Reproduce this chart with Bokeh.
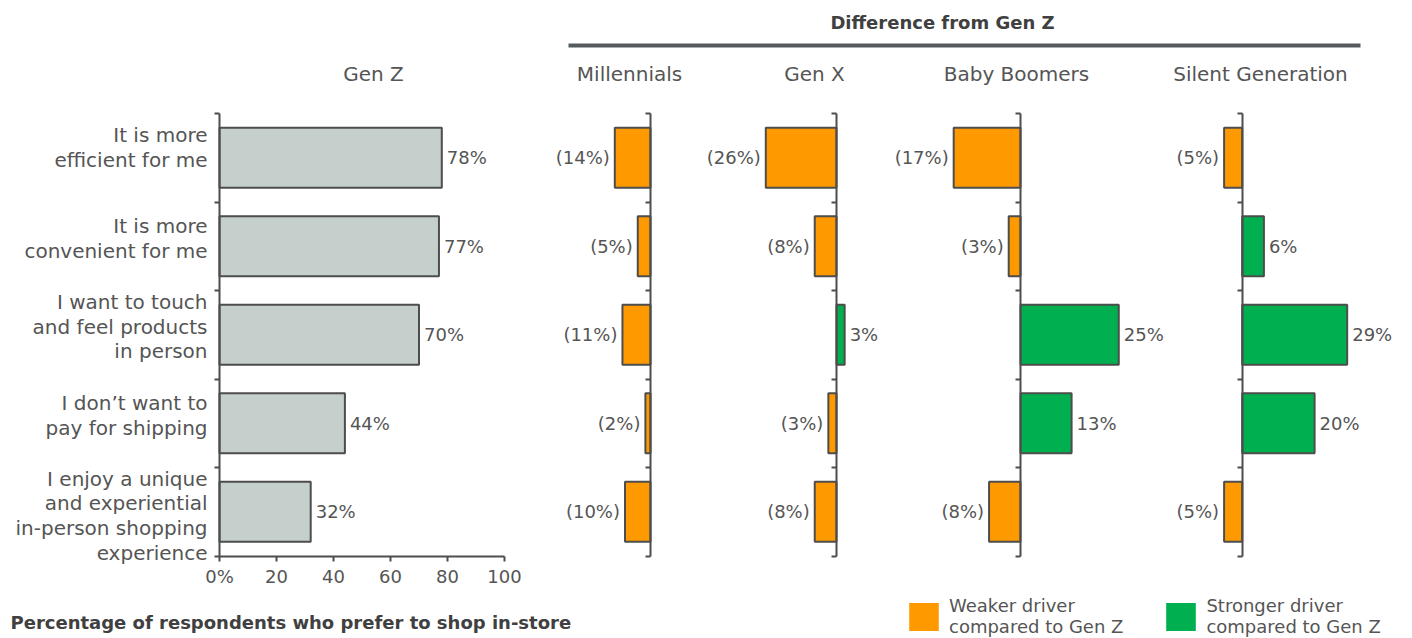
from bokeh.plotting import figure
from bokeh.models import (ColumnDataSource, Range1d, LinearAxis, FixedTicker,
                          Legend, LegendItem)
from bokeh.embed import file_html
from bokeh.resources import INLINE
from bokeh.core.properties import value

# ---------------- data ----------------
categories = [
    "It is more\nefficient for me",
    "It is more\nconvenient for me",
    "I want to touch\nand feel products\nin person",
    "I don\u2019t want to\npay for shipping",
    "I enjoy a unique\nand experiential\nin-person shopping\nexperience",
]
gen_z = [78, 77, 70, 44, 32]
millennials = [-14, -5, -11, -2, -10]
gen_x = [-26, -8, 3, -3, -8]
baby_boomers = [-17, -3, 25, 13, -8]
silent_generation = [-5, 6, 29, 20, -5]

panel_titles = ["Gen Z", "Millennials", "Gen X", "Baby Boomers", "Silent Generation"]
genz_ticks = [0, 20, 40, 60, 80, 100]
genz_tick_labels = ["0%", "20", "40", "60", "80", "100"]
header_text = "Difference from Gen Z"
footer_text = "Percentage of respondents who prefer to shop in-store"
legend_labels = ["Weaker driver\ncompared to Gen Z", "Stronger driver\ncompared to Gen Z"]

# ---------------- style / layout ----------------
W, H = 1412, 638
FONT = "DejaVu Sans"
TXT = "#555555"
EDGE = "#4d4d4d"
GRAY = "#c5cfcc"
ORANGE = "#ff9900"
GREEN = "#00b050"
ROW0 = 113.0      # px of the top category boundary
ROWPX = 88.5      # px per category row
BAR_H = 0.68
# (range name, px of zero, px per percent)
panel_geom = [("genz", 219.0, 2.85), ("mil", 650.0, 2.55), ("genx", 836.0, 2.72),
              ("boom", 1020.0, 3.93), ("silent", 1241.7, 3.62)]
title_cx = [373, 629, 814, 1016, 1260]
title_y = 73
label_shift = [-10, -8, -8, -8, 4]        # vertical nudges of category labels (px)

p = figure(width=W, height=H, output_backend="svg", toolbar_location=None,
           x_range=Range1d(0, W), y_range=Range1d(H, 0),
           x_axis_location=None, y_axis_location=None,
           min_border=0, outline_line_color=None)
p.border_fill_color = "white"
p.xgrid.visible = False
p.ygrid.visible = False

p.extra_y_ranges = {"rows": Range1d((H - ROW0) / ROWPX, -ROW0 / ROWPX)}
p.extra_x_ranges = {name: Range1d(-z / s, (W - z) / s) for name, z, s in panel_geom}

n = len(categories)
centers = [i + 0.5 for i in range(n)]
bounds_ticks = list(range(n + 1))


def cat_axis(name):
    return LinearAxis(x_range_name=name, y_range_name="rows", fixed_location=0,
                      ticker=FixedTicker(ticks=bounds_ticks), bounds=(0, n),
                      major_label_overrides={t: "" for t in bounds_ticks},
                      major_tick_out=5, major_tick_in=0,
                      minor_tick_out=0, minor_tick_in=0,
                      axis_line_color=EDGE, axis_line_width=2,
                      major_tick_line_color=EDGE, major_tick_line_width=2)


# ---------- Gen Z panel ----------
src_z = ColumnDataSource(dict(y=centers, v=gen_z, lbl=[f"{v}%" for v in gen_z]))
p.hbar(y="y", left=0, right="v", height=BAR_H, source=src_z,
       fill_color=GRAY, line_color=EDGE, line_width=2,
       x_range_name="genz", y_range_name="rows")
p.text(x="v", y="y", text="lbl", source=src_z, x_offset=5,
       text_align="left", text_baseline="middle", text_font=value(FONT),
       text_font_size="18px", text_color=TXT,
       x_range_name="genz", y_range_name="rows")

src_c = ColumnDataSource(dict(y=centers, x=[0] * n, t=categories, dy=label_shift))
p.text(x="x", y="y", text="t", source=src_c, x_offset=-12, y_offset="dy",
       text_align="right", text_baseline="middle", text_font=value(FONT),
       text_font_size="20px", text_color=TXT, text_line_height=1.03,
       x_range_name="genz", y_range_name="rows")

p.add_layout(cat_axis("genz"), "left")

xax = LinearAxis(x_range_name="genz", y_range_name="rows", fixed_location=n,
                 ticker=FixedTicker(ticks=genz_ticks), bounds=(0, 100),
                 major_label_overrides={t: l for t, l in zip(genz_ticks, genz_tick_labels)},
                 major_label_text_font=FONT, major_label_text_font_size="18px",
                 major_label_text_color=TXT, major_label_standoff=5,
                 major_tick_out=5, major_tick_in=0, minor_tick_out=0, minor_tick_in=0,
                 axis_line_color=EDGE, axis_line_width=2,
                 major_tick_line_color=EDGE, major_tick_line_width=2)
p.add_layout(xax, "below")

# ---------- difference panels ----------
diff_series = [millennials, gen_x, baby_boomers, silent_generation]
fill_renderers = []
for (name, z, s), vals in zip(panel_geom[1:], diff_series):
    src = ColumnDataSource(dict(y=centers, v=vals,
                                c=[ORANGE if v < 0 else GREEN for v in vals]))
    rf = p.hbar(y="y", left=0, right="v", height=BAR_H, source=src,
                fill_color="c", line_color=None,
                x_range_name=name, y_range_name="rows")
    p.hbar(y="y", left=0, right="v", height=BAR_H, source=src,
           fill_color=None, line_color=EDGE, line_width=2,
           x_range_name=name, y_range_name="rows")
    fill_renderers.append((rf, vals))
    neg = [(c, v) for c, v in zip(centers, vals) if v < 0]
    pos = [(c, v) for c, v in zip(centers, vals) if v >= 0]
    if neg:
        sn = ColumnDataSource(dict(y=[a for a, _ in neg], v=[b for _, b in neg],
                                   t=[f"({abs(b)}%)" for _, b in neg]))
        p.text(x="v", y="y", text="t", source=sn, x_offset=-5,
               text_align="right", text_baseline="middle", text_font=value(FONT),
               text_font_size="18px", text_color=TXT,
               x_range_name=name, y_range_name="rows")
    if pos:
        sp = ColumnDataSource(dict(y=[a for a, _ in pos], v=[b for _, b in pos],
                                   t=[f"{b}%" for _, b in pos]))
        p.text(x="v", y="y", text="t", source=sp, x_offset=5,
               text_align="left", text_baseline="middle", text_font=value(FONT),
               text_font_size="18px", text_color=TXT,
               x_range_name=name, y_range_name="rows")
    p.add_layout(cat_axis(name), "left")

# ---------- titles ----------
p.text(x=title_cx, y=[title_y] * len(panel_titles), text=panel_titles,
       text_align="center", text_baseline="middle", text_font=value(FONT),
       text_font_size="20px", text_color=TXT)
p.text(x=[942], y=[22], text=[header_text], text_align="center",
       text_baseline="middle", text_font=value(FONT), text_font_size="18px",
       text_font_style="bold", text_color="#404040")
p.segment(x0=[568], y0=[45], x1=[1360], y1=[45], line_width=4, line_color="#555a5e")
p.text(x=[10], y=[622], text=[footer_text], text_align="left",
       text_baseline="middle", text_font=value(FONT), text_font_size="18px",
       text_font_style="bold", text_color="#404040")

# ---------- legend ----------
r_mil, v_mil = fill_renderers[0]
r_gx, v_gx = fill_renderers[1]
i_weak = next(i for i, v in enumerate(v_mil) if v < 0)
i_strong = next(i for i, v in enumerate(v_gx) if v >= 0)
legend = Legend(items=[LegendItem(label=legend_labels[0], renderers=[r_mil], index=i_weak),
                       LegendItem(label=legend_labels[1], renderers=[r_gx], index=i_strong)],
                orientation="horizontal", location=(905, 1),
                glyph_width=37, glyph_height=35, label_standoff=7, spacing=39,
                padding=0, margin=0, border_line_color=None, background_fill_alpha=0,
                label_text_font=FONT, label_text_font_size="18px",
                label_text_color=TXT, label_text_line_height=1.0)
p.add_layout(legend)

open("out.html", "w").write(file_html(p, INLINE))
